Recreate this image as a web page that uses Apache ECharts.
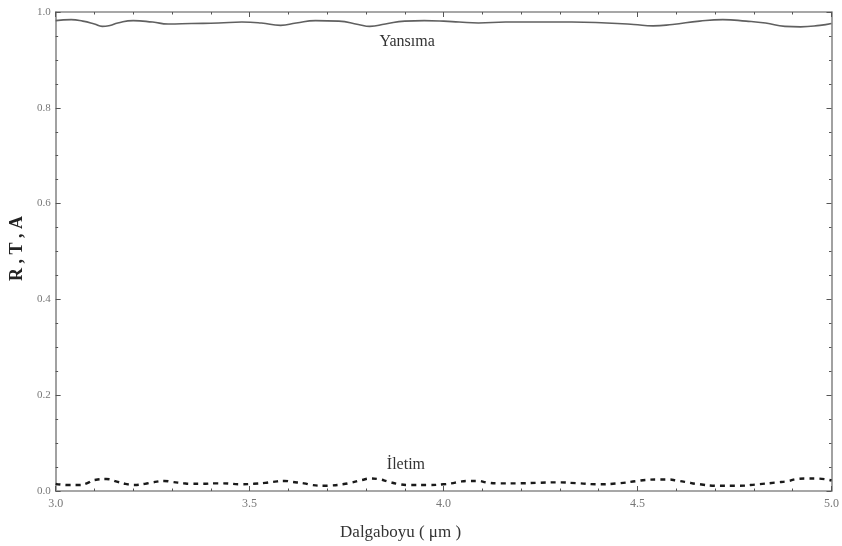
<!DOCTYPE html>
<html>
<head>
<meta charset="utf-8">
<title>R, T, A</title>
<script src="https://cdn.jsdelivr.net/npm/echarts@6/dist/echarts.min.js"></script>
<style>
  html, body { margin: 0; padding: 0; background: #ffffff; }
  #chart { width: 842px; height: 546px; }
</style>
</head>
<body>
<div id="chart"></div>
<script>
// Reflectance (Yansıma) sampled across the wavelength range, in µm
const reflWavelength = [3.00, 3.04, 3.07, 3.10, 3.12, 3.14, 3.16, 3.20, 3.25, 3.29, 3.35, 3.42, 3.48, 3.53, 3.58, 3.62, 3.67, 3.73, 3.78, 3.81, 3.85, 3.90, 3.95, 4.00, 4.04, 4.09, 4.16, 4.25, 4.33, 4.42, 4.49, 4.54, 4.59, 4.66, 4.72, 4.78, 4.83, 4.88, 4.92, 4.97, 5.00];
const reflValues     = [0.982, 0.984, 0.981, 0.975, 0.970, 0.972, 0.977, 0.982, 0.979, 0.975, 0.976, 0.977, 0.979, 0.977, 0.972, 0.977, 0.982, 0.981, 0.974, 0.970, 0.975, 0.981, 0.982, 0.981, 0.979, 0.977, 0.979, 0.979, 0.979, 0.977, 0.974, 0.971, 0.974, 0.981, 0.984, 0.981, 0.977, 0.970, 0.969, 0.972, 0.976];

// Transmittance (İletim)
const transWavelength = [3.00, 3.03, 3.06, 3.08, 3.10, 3.13, 3.16, 3.18, 3.20, 3.23, 3.25, 3.28, 3.30, 3.33, 3.35, 3.38, 3.41, 3.43, 3.48, 3.51, 3.54, 3.56, 3.59, 3.61, 3.64, 3.66, 3.69, 3.71, 3.74, 3.76, 3.79, 3.81, 3.83, 3.86, 3.88, 3.91, 3.96, 4.00, 4.02, 4.04, 4.06, 4.09, 4.11, 4.14, 4.19, 4.24, 4.29, 4.35, 4.40, 4.45, 4.50, 4.52, 4.55, 4.58, 4.60, 4.63, 4.65, 4.71, 4.76, 4.81, 4.86, 4.89, 4.91, 4.94, 4.96, 5.00];
const transValues     = [0.015, 0.0125, 0.0125, 0.016, 0.023, 0.025, 0.019, 0.015, 0.0125, 0.015, 0.018, 0.021, 0.019, 0.016, 0.015, 0.015, 0.016, 0.016, 0.014, 0.015, 0.017, 0.019, 0.021, 0.019, 0.016, 0.0125, 0.011, 0.0115, 0.014, 0.017, 0.023, 0.026, 0.025, 0.019, 0.015, 0.0125, 0.0125, 0.014, 0.016, 0.019, 0.021, 0.021, 0.018, 0.016, 0.016, 0.017, 0.018, 0.016, 0.014, 0.016, 0.021, 0.023, 0.024, 0.024, 0.022, 0.018, 0.015, 0.011, 0.011, 0.014, 0.018, 0.021, 0.025, 0.026, 0.026, 0.022];

// Axis ranges and tick labels
const xTicks = ['3.0', '3.5', '4.0', '4.5', '5.0'];
const yTicks = ['0.0', '0.2', '0.4', '0.6', '0.8', '1.0'];

const reflData = reflWavelength.map((w, i) => [w, reflValues[i]]);
const transData = transWavelength.map((w, i) => [w, transValues[i]]);

const serif = '"Liberation Serif", "DejaVu Serif", serif';
const frameColor = '#8a8a8a';

function frameAxis(extra) {
  return Object.assign({
    type: 'value',
    axisLine: { show: true, onZero: false, lineStyle: { color: frameColor, width: 1.6 } },
    axisTick: { show: true, inside: true, length: 5, lineStyle: { color: '#555', width: 1 } },
    splitLine: { show: false },
    minorSplitLine: { show: false }
  }, extra);
}

const chart = echarts.init(document.getElementById('chart'), null, { renderer: 'canvas' });

chart.setOption({
  backgroundColor: '#ffffff',
  animation: false,
  grid: { left: 54.5, right: 9, top: 12, bottom: 55 },
  xAxis: [
    frameAxis({
      min: 3, max: 5, interval: 0.5, position: 'bottom',
      minorTick: { show: true, splitNumber: 5, length: 2.5, lineStyle: { color: '#555', width: 1 } },
      axisLabel: {
        show: true, margin: 7, color: '#777', fontFamily: serif, fontSize: 12,
        formatter: v => xTicks[Math.round((v - 3) / 0.5)]
      },
      name: 'Dalgaboyu ( μm )', nameLocation: 'middle', nameGap: 33,
      nameTextStyle: { color: '#333', fontFamily: serif, fontSize: 17, padding: [0, 86, 0, 0] }
    }),
    frameAxis({
      min: 3, max: 5, interval: 0.5, position: 'top',
      minorTick: { show: true, splitNumber: 5, length: 2.5, lineStyle: { color: '#555', width: 1 } },
      axisLabel: { show: false }
    })
  ],
  yAxis: [
    frameAxis({
      min: 0, max: 1, interval: 0.2, position: 'left',
      minorTick: { show: true, splitNumber: 4, length: 2.5, lineStyle: { color: '#555', width: 1 } },
      axisLabel: {
        show: true, margin: 5, color: '#777', fontFamily: serif, fontSize: 11,
        formatter: v => yTicks[Math.round(v / 0.2)]
      },
      name: 'R , T , A', nameLocation: 'middle', nameGap: 28, nameRotate: 90,
      nameTextStyle: { color: '#222', fontFamily: serif, fontSize: 18, fontWeight: 'bold', padding: [0, 0, 0, 6] }
    }),
    frameAxis({
      min: 0, max: 1, interval: 0.2, position: 'right',
      minorTick: { show: true, splitNumber: 4, length: 2.5, lineStyle: { color: '#555', width: 1 } },
      axisLabel: { show: false }
    })
  ],
  series: [
    {
      name: 'Yansıma',
      type: 'line',
      data: reflData,
      smooth: 0.5,
      showSymbol: false,
      lineStyle: { color: '#606060', width: 1.6 },
      markPoint: {
        symbol: 'circle', symbolSize: 0,
        data: [{ coord: [3.906, 0.937], value: 'Yansıma' }],
        label: { show: true, position: 'inside', formatter: 'Yansıma', color: '#333', fontFamily: serif, fontSize: 16 }
      }
    },
    {
      name: 'İletim',
      type: 'line',
      data: transData,
      smooth: 0.5,
      showSymbol: false,
      lineStyle: { color: '#1a1a1a', width: 2.4, type: [5, 5] },
      markPoint: {
        symbol: 'circle', symbolSize: 0,
        data: [{ coord: [3.903, 0.054], value: 'İletim' }],
        label: { show: true, position: 'inside', formatter: 'İletim', color: '#333', fontFamily: serif, fontSize: 16 }
      }
    }
  ]
});
</script>
</body>
</html>
